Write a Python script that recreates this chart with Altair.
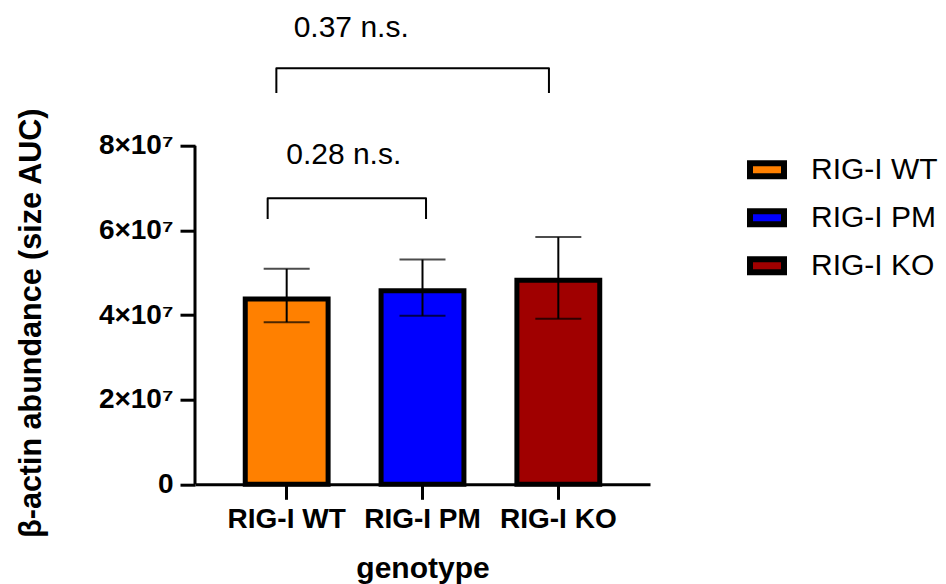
import altair as alt
import pandas as pd

# ---- data ----
genotypes = ["RIG-I WT", "RIG-I PM", "RIG-I KO"]
means = [4.38e7, 4.57e7, 4.82e7]
err_low = [3.83e7, 3.98e7, 3.91e7]
err_high = [5.09e7, 5.31e7, 5.84e7]
colors = ["#FF8000", "#0000FF", "#A00000"]

# significance brackets (x in category-index units, y in data units)
pvalue_labels = ["0.28 n.s.", "0.37 n.s."]
bracket_left = [-0.14, -0.076]
bracket_right = [1.026, 1.931]
bracket_top = [6.757e7, 9.829e7]
bracket_foot = [6.268e7, 9.245e7]
label_x = [0.42, 0.475]
label_y = [7.56e7, 10.575e7]

FONT = "Liberation Sans"

bars_df = pd.DataFrame({"genotype": genotypes, "mean": means,
                        "lo": err_low, "hi": err_high})

path_rows = []
for i in range(len(pvalue_labels)):
    pts = [(bracket_left[i], bracket_foot[i]), (bracket_left[i], bracket_top[i]),
           (bracket_right[i], bracket_top[i]), (bracket_right[i], bracket_foot[i])]
    for k, (px, py) in enumerate(pts):
        path_rows.append({"bracket": i, "order": k, "x": px, "y": py})
path_df = pd.DataFrame(path_rows)
label_df = pd.DataFrame({"label": pvalue_labels, "x": label_x, "y": label_y})
axis_df = pd.DataFrame({"y0": [0.0], "y1": [8e7]})

yscale = alt.Scale(domain=[0, 8e7], nice=False, zero=True)
xband = alt.Scale(domain=genotypes, paddingInner=0.39, paddingOuter=0.37)
xq = alt.Scale(domain=[-0.675, 2.675], nice=False, zero=False)

base = alt.Chart(bars_df)

bars = base.mark_bar(stroke="black", strokeWidth=5).encode(
    x=alt.X("genotype:N", scale=xband, sort=genotypes, title="genotype",
            axis=alt.Axis(labelAngle=0, labelFont=FONT, labelFontSize=28,
                          labelFontWeight="bold", labelColor="black",
                          labelPadding=6, tickSize=15, tickWidth=3,
                          tickColor="black", domainWidth=3, domainColor="black",
                          grid=False,
                          titleFont=FONT, titleFontSize=30, titleFontWeight="bold",
                          titleColor="black", titlePadding=20)),
    y=alt.Y("mean:Q", scale=yscale, title="β-actin abundance (size AUC)",
            axis=alt.Axis(values=[0, 2e7, 4e7, 6e7, 8e7], domain=False,
                          labelExpr="datum.value == 0 ? '0' : format(datum.value / 1e7, 'd') + '×10⁷'",
                          labelFont=FONT, labelFontSize=28, labelFontWeight="bold",
                          labelColor="black", labelPadding=7, tickSize=15,
                          tickWidth=3, tickColor="black", grid=False,
                          titleFont=FONT, titleFontSize=30.5, titleFontWeight="bold",
                          titleColor="black", titlePadding=52, titleY=177)),
    color=alt.Color("genotype:N", scale=alt.Scale(domain=genotypes, range=colors),
                    sort=genotypes,
                    legend=alt.Legend(title=None, orient="none", legendX=552,
                                      legendY=4, symbolType="M-1,-0.38H1V0.38H-1Z",
                                      symbolSize=1156, symbolStrokeColor="black",
                                      symbolStrokeWidth=6, symbolOpacity=1,
                                      labelFont=FONT, labelFontSize=30,
                                      labelColor="black", labelOffset=24,
                                      rowPadding=9)),
)

err_rule = base.mark_rule(color="black", strokeWidth=2).encode(
    x=alt.X("genotype:N", scale=xband, sort=genotypes),
    y=alt.Y("lo:Q", scale=yscale),
    y2="hi:Q",
)
cap_hi = base.mark_tick(color="black", thickness=2, size=46, orient="horizontal").encode(
    x=alt.X("genotype:N", scale=xband, sort=genotypes),
    y=alt.Y("hi:Q", scale=yscale),
)
cap_lo = base.mark_tick(color="black", thickness=2, size=46, orient="horizontal").encode(
    x=alt.X("genotype:N", scale=xband, sort=genotypes),
    y=alt.Y("lo:Q", scale=yscale),
)

y_axis_line = alt.Chart(axis_df).mark_rule(color="black", strokeWidth=3).encode(
    x=alt.value(0),
    y=alt.Y("y0:Q", scale=yscale),
    y2="y1:Q",
)

brackets = alt.Chart(path_df).mark_line(color="black", strokeWidth=2,
                                        strokeJoin="round").encode(
    x=alt.X("x:Q", scale=xq, axis=None),
    y=alt.Y("y:Q", scale=yscale),
    detail="bracket:N",
    order="order:Q",
)
labels = alt.Chart(label_df).mark_text(font=FONT, fontSize=30, color="black",
                                       align="center", baseline="alphabetic").encode(
    x=alt.X("x:Q", scale=xq, axis=None),
    y=alt.Y("y:Q", scale=yscale),
    text="label:N",
)

band_layer = alt.layer(bars, err_rule, cap_hi, cap_lo, y_axis_line)
chart = alt.layer(band_layer, brackets, labels).resolve_scale(x="independent").properties(
    width=455, height=338.6,
    background="white",
    autosize=alt.AutoSizeParams(type="none"),
    padding={"left": 195, "top": 145.7, "right": 296, "bottom": 99.7},
).configure_view(strokeWidth=0, stroke="transparent").configure_axis(grid=False)

chart.save("out.html", embed_options={"renderer": "svg", "actions": False})
